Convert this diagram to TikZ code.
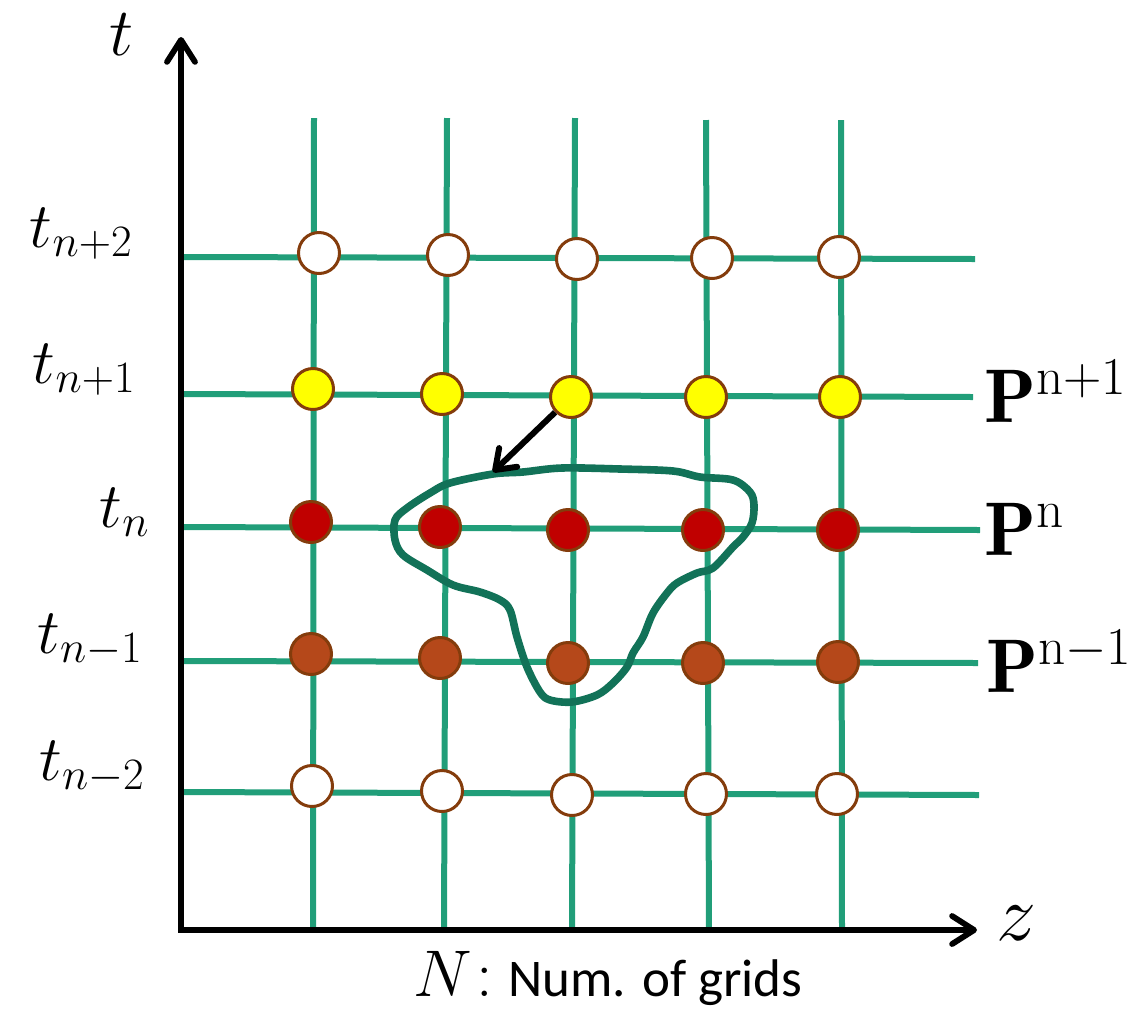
\RequirePackage{fix-cm}
\documentclass[tikz,border=0pt]{standalone}
\usepackage{fontspec}
\newfontfamily\calib{Carlito}
\usetikzlibrary{arrows.meta}
\definecolor{gridgreen}{RGB}{33,158,121}
\definecolor{blobgreen}{RGB}{18,114,88}
\definecolor{ringbrown}{RGB}{132,60,12}
\definecolor{ptred}{RGB}{192,0,0}
\definecolor{ptbrown}{RGB}{181,72,26}
\definecolor{ptyellow}{RGB}{255,255,0}
\begin{document}
\begin{tikzpicture}[x=0.5pt,y=-0.5pt,
  gridline/.style={gridgreen,line width=3pt},
  axisline/.style={black,line width=2.9pt,line join=miter,
    {Straight Barb[length=11pt,width=14pt,round]}-{Straight Barb[length=11pt,width=14pt,round]}},
  blobline/.style={blobgreen,line width=3.8pt,line join=round},
  pointer/.style={black,line width=3pt,-{Straight Barb[length=9pt,width=13pt,round]}},
  gpt/.style={circle,draw=ringbrown,line width=1.5pt,minimum size=20.5pt,inner sep=0pt},
  pwhite/.style={gpt,fill=white},
  pyellow/.style={gpt,fill=ptyellow},
  pred/.style={gpt,fill=ptred},
  pbrown/.style={gpt,fill=ptbrown},
  tlab/.style={font=\fontsize{32}{38}\selectfont,anchor=base east,inner sep=0pt},
  plab/.style={font=\fontsize{38}{44}\selectfont,anchor=base west,inner sep=0pt},
  axlab/.style={font=\fontsize{34}{40}\selectfont,anchor=base,inner sep=0pt}]
\useasboundingbox (0,0) rectangle (1141,1008);

% grid coordinates
\coordinate (v1t) at (314,118); \coordinate (v1b) at (313,930);
\coordinate (v2t) at (447,118); \coordinate (v2b) at (444,930);
\coordinate (v3t) at (575,118); \coordinate (v3b) at (572,930);
\coordinate (v4t) at (706,120); \coordinate (v4b) at (709,930);
\coordinate (v5t) at (841,120); \coordinate (v5b) at (842,930);
\coordinate (h1l) at (182,257); \coordinate (h1r) at (975,259);
\coordinate (h2l) at (182,394); \coordinate (h2r) at (973,397);
\coordinate (h3l) at (182,527); \coordinate (h3r) at (980,530);
\coordinate (h4l) at (182,661); \coordinate (h4r) at (978,663);
\coordinate (h5l) at (182,792); \coordinate (h5r) at (979,795);

\foreach \i in {1,...,5} {
  \draw[gridline] (v\i t) -- (v\i b);
  \draw[gridline] (h\i l) -- (h\i r);
}

% axes
\coordinate (ytip) at (181,37);
\coordinate (origin) at (181,930);
\coordinate (xtip) at (977,930);
\draw[axisline] (ytip) -- (origin) -- (xtip);

% blob
\draw[blobline] plot[smooth cycle,tension=0.55] coordinates {
 (493,474) (523,472) (562,468) (620,469) (673,471) (700,477) (733,480)
 (750,492) (754,505) (752,523) (743,537) (733,547) (713,568) (697,573)
 (677,583) (667,593) (653,613) (643,637) (633,653) (627,667) (613,683)
 (597,695) (572,702) (550,700) (540,692) (527,667) (517,637) (510,610)
 (500,600) (480,592) (453,585) (427,570) (403,555) (395,540) (395,520)
 (407,508) (430,493) (450,483)};

% points
\node[pwhite] (c11) at (319,253) {};
\node[pwhite] (c12) at (448,255) {};
\node[pwhite] (c13) at (577,259) {};
\node[pwhite] (c14) at (712,258) {};
\node[pwhite] (c15) at (839,257) {};

\node[pyellow] (c21) at (313,389) {};
\node[pyellow] (c22) at (442,394) {};
\node[pyellow] (c23) at (571,397) {};
\node[pyellow] (c24) at (706,397) {};
\node[pyellow] (c25) at (840,397) {};

\node[pred] (c31) at (311,522) {};
\node[pred] (c32) at (440,527) {};
\node[pred] (c33) at (568,530) {};
\node[pred] (c34) at (703,530) {};
\node[pred] (c35) at (838,530) {};

\node[pbrown] (c41) at (311,654) {};
\node[pbrown] (c42) at (440,658) {};
\node[pbrown] (c43) at (568,663) {};
\node[pbrown] (c44) at (703,663) {};
\node[pbrown] (c45) at (838,662) {};

\node[pwhite] (c51) at (312,786) {};
\node[pwhite] (c52) at (442,791) {};
\node[pwhite] (c53) at (572,795) {};
\node[pwhite] (c54) at (706,794) {};
\node[pwhite] (c55) at (837,794) {};

% pointer
\coordinate (blobtip) at (493,472);
\draw[pointer] (c23) -- (blobtip);

% labels
\node[axlab] (tax) at (122,55) {$t$};
\node[axlab,anchor=base west,font=\fontsize{40}{48}\selectfont] (zax) at (996,940) {$z$};
\node[tlab] (lt1) at (133,247) {$t_{n+2}$};
\node[tlab] (lt2) at (136,383) {$t_{n+1}$};
\node[tlab] (lt3) at (150,527) {$t_{n}$};
\node[tlab] (lt4) at (143,653) {$t_{n-1}$};
\node[tlab] (lt5) at (145,780) {$t_{n-2}$};
\node[plab] (pn1) at (984,422) {$\mathbf{P}^{\mathrm{n}+1}$};
\node[plab] (pn) at (984,555) {$\mathbf{P}^{\mathrm{n}}$};
\node[plab] (pm1) at (986,692) {$\mathbf{P}^{\mathrm{n}-1}$};
\node[anchor=base west,inner sep=0pt,font=\fontsize{26.5}{32}\selectfont] (nlab) at (413,996)
  {{\fontsize{33}{40}\selectfont$N$\hspace{2pt}:}\hspace{8pt}{\calib Num. of grids}};
\end{tikzpicture}
\end{document}
